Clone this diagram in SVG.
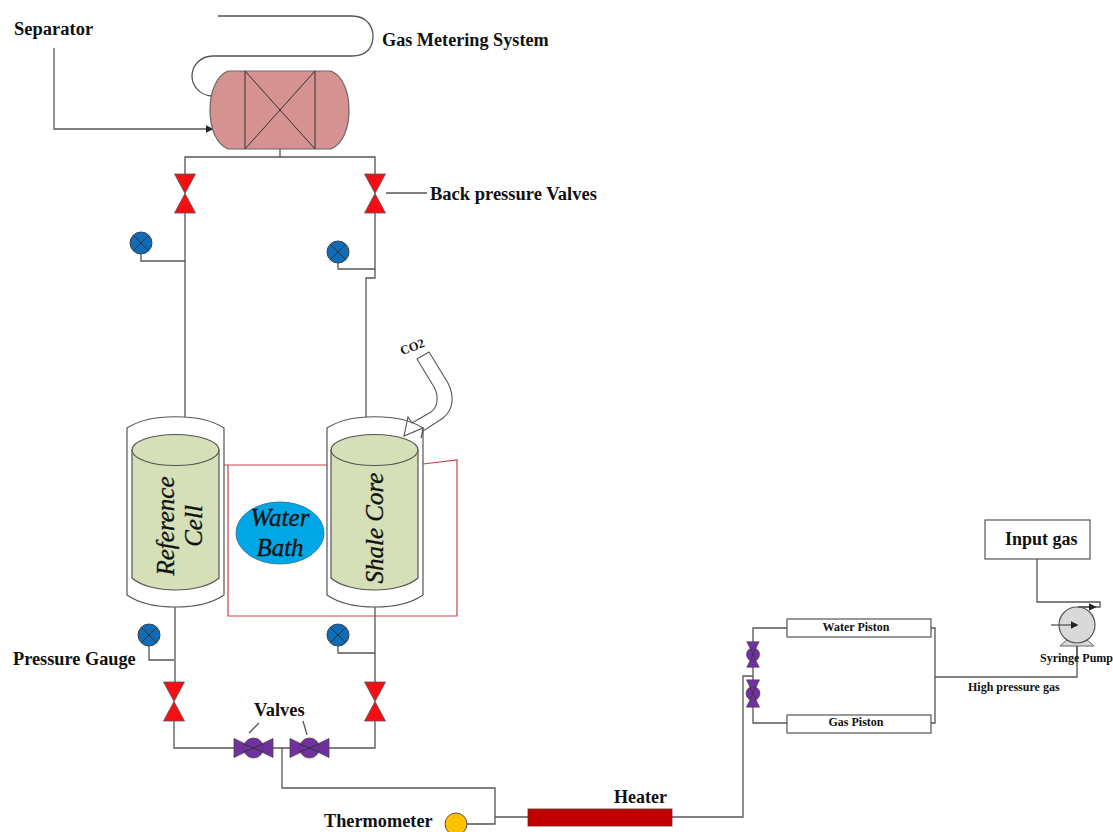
<svg xmlns="http://www.w3.org/2000/svg" width="1113" height="832" viewBox="0 0 1113 832">
<style>
text{font-family:"Liberation Serif",serif;font-weight:bold;fill:#111}
.i{font-style:italic;font-weight:normal;font-size:25px;text-anchor:middle;stroke:#111;stroke-width:.35}
.p{fill:none;stroke:#555;stroke-width:1.3}
.g{fill:#0f6cb8;stroke:#444;stroke-width:1}
.x{fill:none;stroke:#333;stroke-width:1}
.rv{fill:#f50f14;stroke:#555;stroke-width:.8}
.pv{fill:#7030a0;stroke:#444;stroke-width:.8}
.shell{fill:#fff;stroke:#555;stroke-width:1.2}
.core{fill:#d5dfb8;stroke:#555;stroke-width:1.2}
.box{fill:#fff;stroke:#555;stroke-width:1.2}
</style>
<defs>
<marker id="a" markerWidth="6" markerHeight="6" refX="5" refY="3" orient="auto"><path d="M0 0L6 3L0 6Z" fill="#222"/></marker>
<g id="redv"><path class="rv" d="M-10.500 -19.500H10.500L-10.500 19.500H10.500Z"/></g>
<g id="gauge"><circle class="g" r="11"/><path class="x" d="M-7.500 -7.500L7.500 7.500M-7.500 7.500L7.500 -7.500"/></g>
<g id="purv"><path class="pv" d="M-19.500 -9.500L19.500 9.500V-9.500L-19.500 9.500Z"/><circle class="pv" r="10"/><path class="x" d="M-10 -4L10 4M-10 4L10 -4"/></g>
</defs>
<g id="connectors">
<path class="p" d="M218 16H352C368 16 373 28 373 36C373 46 368 56 352 56H213C200 56 192 66 192 76C192 86 200 95 211 96"/>
<path class="p" marker-end="url(#a)" d="M54 48V129H212"/>
<path class="p" d="M280 149V157M185 174V157H375V174M185 213V417M375 213V278H366V417M141 254V261H185M338 263V269H375"/>
<path class="p" d="M386 193H427"/>
<path class="p" d="M175 607V682M375 607V682M149 646V660H174M338 646V653H375"/>
<path class="p" d="M174 721V748H234M273 748H290M329 748H375V721M282 748V788H495V824H467M495 817H528M672 817H743V676H753"/>
<path class="p" d="M259 723L249 733M303 721L307 735"/>
<path class="p" d="M753 642V628H787M753 667V680M753 707V723H787M931 628H935V723H931M935 677H1077V643"/>
<path class="p" d="M1037 559V602H1100V607H1078"/>
</g>
<g id="water-bath-frame"><path fill="none" stroke="#c9434a" stroke-width="1.2" d="M224 465H327M423 464L457 460V616H228V465"/></g>
<g id="separator">
<path d="M228 71H331C343 76 349 92 349 110C349 128 343 144 331 149H228C216 144 210 128 210 110C210 92 216 76 228 71Z" fill="#d59290" stroke="#666" stroke-width="1.2"/>
<path class="x" d="M245 71V149M315 71V149M245 71L315 149M315 71L245 149"/>
</g>
<g id="back-valve-left"><use href="#redv" x="185" y="193.500"/></g>
<g id="back-valve-right"><use href="#redv" x="375" y="193.500"/></g>
<g id="gauge-1"><use href="#gauge" x="141" y="243"/></g>
<g id="gauge-2"><use href="#gauge" x="338" y="252"/></g>
<g id="reference-cell">
<path class="shell" d="M127 428C150 413 201 413 224 428V595C201 611 150 611 127 595Z"/>
<path class="core" d="M132 450V578C150 594 201 594 219 578V450Z"/>
<ellipse class="core" cx="175.500" cy="450" rx="43.500" ry="15.500"/>
<text class="i" transform="translate(174 526) rotate(-90)"><tspan x="0" y="0">Reference</tspan><tspan x="0" y="28">Cell</tspan></text>
</g>
<g id="shale-core">
<path class="shell" d="M327 428C350 413 400 413 423 428V595C400 611 350 611 327 595Z"/>
<path class="core" d="M331 450V578C349 594 400 594 418 578V450Z"/>
<ellipse class="core" cx="374.500" cy="450" rx="43.500" ry="15.500"/>
<text class="i" transform="translate(383 528) rotate(-90)">Shale Core</text>
</g>
<g id="co2-arrow">
<path fill="none" stroke="#555" stroke-width="1.1" d="M417 359L429 352L448 383C455 397 453 410 443 418L423 431L421 438L423 428L404 436L408 417L412 423L431 412C438 407 439 396 434 387Z"/>
<text transform="translate(402 355) rotate(-20)" font-size="12.500">CO2</text>
</g>
<g id="water-bath">
<ellipse cx="280" cy="533" rx="44" ry="31" fill="#00a7e6" stroke="#2a7fb0" stroke-width="1"/>
<text class="i" x="280" y="526">Water</text>
<text class="i" x="280" y="556">Bath</text>
</g>
<g id="gauge-3"><use href="#gauge" x="149" y="635"/></g>
<g id="gauge-4"><use href="#gauge" x="338" y="635"/></g>
<g id="valve-left"><use href="#redv" x="174" y="701.500"/></g>
<g id="valve-right"><use href="#redv" x="375" y="701.500"/></g>
<g id="valve-p1"><use href="#purv" x="253.500" y="748"/></g>
<g id="valve-p2"><use href="#purv" x="309.500" y="748"/></g>
<g id="thermometer"><circle cx="456" cy="824" r="11" fill="#ffc000" stroke="#555" stroke-width="1"/></g>
<g id="heater"><rect x="528" y="809" width="144" height="17" fill="#c00000" stroke="#7a2020" stroke-width=".8"/></g>
<g id="valve-p3"><g transform="translate(753 654.500) rotate(90) scale(.66)"><use href="#purv"/></g></g>
<g id="valve-p4"><g transform="translate(753 693.500) rotate(90) scale(.7)"><use href="#purv"/></g></g>
<g id="water-piston"><rect class="box" x="787" y="619" width="144" height="18"/><text x="856" y="631" font-size="12" text-anchor="middle">Water Piston</text></g>
<g id="gas-piston"><rect class="box" x="787" y="715" width="144" height="18"/><text x="856" y="726" font-size="12" text-anchor="middle">Gas Piston</text></g>
<g id="input-gas"><rect class="box" x="985" y="520" width="105" height="39"/><text x="1005" y="545" font-size="18">Input gas</text></g>
<g id="syringe-pump">
<path d="M1060 646L1068 639H1086L1094 646Z" fill="#d9d9d9" stroke="#666" stroke-width="1"/>
<circle cx="1077" cy="625" r="18" fill="#d9d9d9" stroke="#555" stroke-width="1.2"/>
<path class="p" marker-end="url(#a)" d="M1051 625H1077"/>
<path class="p" marker-end="url(#a)" d="M1078 607H1095"/>
<path class="p" d="M1077 646V662"/>
</g>
<g id="labels">
<text x="14" y="35" font-size="18.500">Separator</text>
<text x="382" y="46" font-size="18.200">Gas Metering System</text>
<text x="430" y="200" font-size="18.500">Back pressure Valves</text>
<text x="13" y="665" font-size="18.300">Pressure Gauge</text>
<text x="254" y="716" font-size="18.500">Valves</text>
<text x="324" y="827" font-size="18.300">Thermometer</text>
<text x="614" y="803" font-size="18">Heater</text>
<text x="968" y="691" font-size="12">High pressure gas</text>
<text x="1040" y="662" font-size="12">Syringe Pump</text>
</g>
</svg>
